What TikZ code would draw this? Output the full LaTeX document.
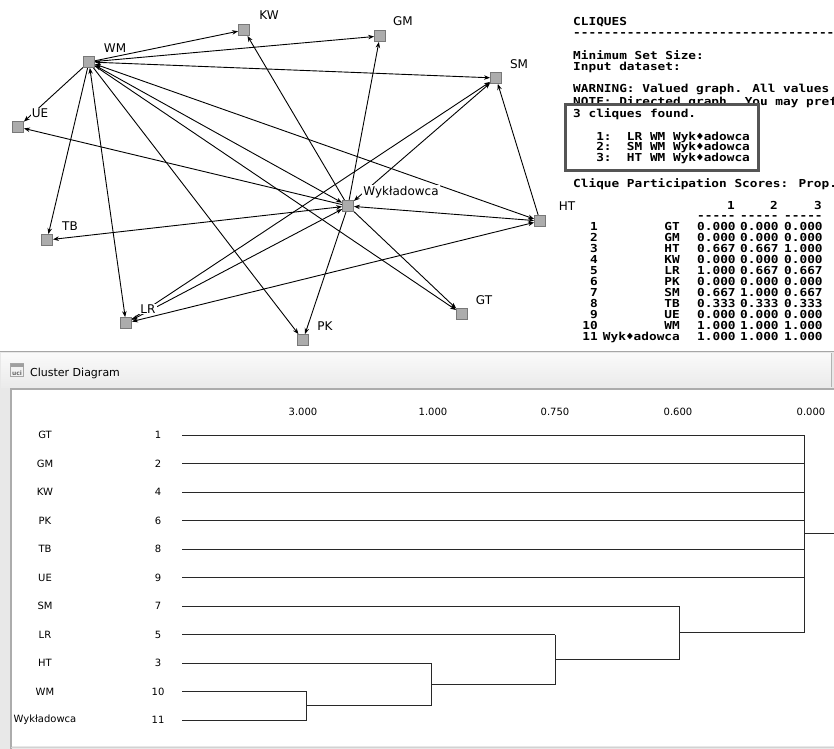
\documentclass[tikz,border=0pt]{standalone}
\usepackage{fontspec}
\setmainfont{DejaVu Sans}
\newfontfamily\monof[FakeStretch=1.16]{DejaVu Sans Mono}
\usetikzlibrary{arrows.meta}
\pgfdeclarelayer{back}
\pgfdeclarelayer{bg}
\pgfsetlayers{back,bg,main}
\definecolor{vfill}{RGB}{172,172,172}
\definecolor{vborder}{RGB}{120,120,120}
\definecolor{boxc}{RGB}{85,85,85}
\definecolor{dline}{RGB}{40,40,40}
\tikzset{
  vtx/.style={draw=vborder, fill=vfill, minimum size=11pt, inner sep=0pt, line width=0.8pt},
  lab/.style={fill=white, inner sep=1pt, font=\fontsize{12}{14}\selectfont},
  ed/.style={line width=0.9pt, -{Stealth[length=6pt,width=4.5pt]}},
  bed/.style={line width=0.9pt, {Stealth[length=6pt,width=4.5pt]}-{Stealth[length=6pt,width=4.5pt]}},
  mono/.style={font=\monof\bfseries\fontsize{11}{13}\selectfont, inner sep=0pt, anchor=base west},
  monor/.style={font=\monof\bfseries\fontsize{11}{13}\selectfont, inner sep=0pt, anchor=base east},
  dname/.style={font=\fontsize{10}{12}\selectfont, inner sep=0pt},
  dtree/.style={line width=1pt, draw=dline},
}
\begin{document}
\begin{tikzpicture}[x=1pt,y=-1pt]
\useasboundingbox (0,0) rectangle (834,748);
\begin{pgfonlayer}{back}
\fill[white] (0,0) rectangle (834,748);
\end{pgfonlayer}

% ---------------- network ----------------
\node[vtx] (WM)  at (89,62) {};
\node[vtx] (KW)  at (244,30) {};
\node[vtx] (GM)  at (380,36) {};
\node[vtx] (SM)  at (496,78) {};
\node[vtx] (UE)  at (18,127) {};
\node[vtx] (Wy)  at (348,206) {};
\node[vtx] (HT)  at (540,221) {};
\node[vtx] (TB)  at (47,240) {};
\node[vtx] (LR)  at (126,323) {};
\node[vtx] (GT)  at (462,314) {};
\node[vtx] (PK)  at (303,340) {};

\begin{pgfonlayer}{bg}
\draw[ed]  (WM) -- (KW);
\draw[ed]  (WM) -- (GM);
\draw[bed] (WM) -- (SM);
\draw[ed]  (WM) -- (UE);
\draw[ed]  (WM) -- (TB);
\draw[bed] (WM) -- (LR);
\draw[ed]  (WM) -- (PK);
\draw[ed]  (WM) -- (GT);
\draw[bed] (WM) -- (Wy);
\draw[bed] (WM) -- (HT);
\draw[ed]  (Wy) -- (KW);
\draw[ed]  (Wy) -- (GM);
\draw[bed] (Wy) -- (SM);
\draw[ed]  (Wy) -- (UE);
\draw[bed] (Wy) -- (TB);
\draw[bed] (Wy) -- (LR);
\draw[bed] (Wy) -- (HT);
\draw[ed]  (Wy) -- (GT);
\draw[ed]  (Wy) -- (PK);
\draw[ed]  (LR) -- (SM);
\draw[bed] (LR) -- (HT);
\draw[ed]  (HT) -- (SM);
\end{pgfonlayer}

\node[lab] (lWM) at (115,48) {WM};
\node[lab] (lKW) at (269,15) {KW};
\node[lab] (lGM) at (403,21) {GM};
\node[lab] (lSM) at (519,64) {SM};
\node[lab] (lUE) at (40,113) {UE};
\node[lab] (lWy) at (401,192) {Wykładowca};
\node[lab] (lHT) at (567,206) {HT};
\node[lab] (lGT) at (484,300) {GT};
\node[lab] (lPK) at (325,326) {PK};
\node[lab] (lTB) at (70,226) {TB};
\node[lab] (lLR) at (148,309) {LR};

% ---------------- text output ----------------
\node[mono] (t1) at (573,25) {CLIQUES};
\node[mono] (t2) at (573,36) {-----------------------------------};
\node[mono] (t3) at (573,59) {Minimum Set Size:};
\node[mono] (t4) at (573,70) {Input dataset:};
\node[mono] (t5) at (573,92) {WARNING: Valued graph. All values};
\node[mono] (t6) at (573,105) {NOTE: Directed graph. You may pref};
\draw[draw=boxc, fill=white, line width=3pt] (565,104) rectangle (758,170);
\node[mono] (t7) at (573,117) {3 cliques found.};
\node[mono] (c1) at (573,140) {\ \ \ 1:\ \ LR WM Wyk♦adowca};
\node[mono] (c2) at (573,150.5) {\ \ \ 2:\ \ SM WM Wyk♦adowca};
\node[mono] (c3) at (573,161) {\ \ \ 3:\ \ HT WM Wyk♦adowca};
\node[mono] (t8) at (573,187) {Clique Participation Scores: Prop.};

\node[monor] (h1) at (735,209) {1};
\node[monor] (h2) at (778,209) {2};
\node[monor] (h3) at (822,209) {3};
\node[mono] (d1) at (697,219.5) {-----};
\node[mono] (d2) at (740,219.5) {-----};
\node[mono] (d3) at (784,219.5) {-----};

\foreach \n/\lbl/\a/\b/\c [count=\i from 0] in {
  1/GT/0.000/0.000/0.000,
  2/GM/0.000/0.000/0.000,
  3/HT/0.667/0.667/1.000,
  4/KW/0.000/0.000/0.000,
  5/LR/1.000/0.667/0.667,
  6/PK/0.000/0.000/0.000,
  7/SM/0.667/1.000/0.667,
  8/TB/0.333/0.333/0.333,
  9/UE/0.000/0.000/0.000,
  10/WM/1.000/1.000/1.000,
  11/Wyk♦adowca/1.000/1.000/1.000} {
  \node[monor] (rn\i) at (598,230+11*\i) {\n};
  \node[monor] (rl\i) at (680,230+11*\i) {\lbl};
  \node[mono]  (ra\i) at (697,230+11*\i) {\a};
  \node[mono]  (rb\i) at (740,230+11*\i) {\b};
  \node[mono]  (rc\i) at (784,230+11*\i) {\c};
}

% ---------------- cluster diagram window ----------------
\fill[gray!18] (0,351) rectangle (840,760);
\draw[gray!70, line width=1pt] (0,351.5) -- (840,351.5);
\shade[top color=gray!4, bottom color=gray!16] (1,353) rectangle (831,387);
\draw[gray!60, line width=1pt] (831,353) -- (831,387);
\fill[white] (11,389) rectangle (840,746);
\draw[gray!65, line width=1.5pt] (11,760) -- (11,389) -- (840,389);
\draw[gray!35, line width=1pt] (11,747) -- (840,747);

\node[draw=gray!70, fill=gray!10, minimum width=13pt, minimum height=13pt, inner sep=0pt] (ic) at (17,370) {};
\fill[gray!75] (10.5,363.5) rectangle (23.5,367);
\node[font=\bfseries\fontsize{6}{6}\selectfont, inner sep=0pt, text=gray!80!black] (ict) at (17,373) {uci};
\node[anchor=west, inner sep=0pt, font=\fontsize{11}{13}\selectfont] (title) at (30,373) {Cluster Diagram};

\foreach \v/\x in {3.000/303, 1.000/433, 0.750/555, 0.600/678, 0.000/811} {
  \node[dname] at (\x,412) {\v};
}

\foreach \nm/\num [count=\i from 0] in {GT/1, GM/2, KW/4, PK/6, TB/8, UE/9, SM/7, LR/5, HT/3, WM/10, Wykładowca/11} {
  \node[dname] (dn\i) at (45,435+28.5*\i) {\nm};
  \node[dname] (dk\i) at (158,435+28.5*\i) {\num};
  \coordinate (ds\i) at (182,435+28.5*\i);
}

\foreach \i in {0,...,5} {
  \draw[dtree] (ds\i) -- (804,435+28.5*\i);
}
\draw[dtree] (ds6) -- (679,606);
\draw[dtree] (ds7) -- (555,634.5);
\draw[dtree] (ds8) -- (431,663);
\draw[dtree] (ds9) -- (306,691.5) -- (306,720) -- (ds10);
\coordinate (j1) at (306,705.75);
\coordinate (j2) at (431,684.4);
\coordinate (j3) at (555,659.5);
\coordinate (j4) at (679,632.7);
\coordinate (root) at (804,533.8);
\draw[dtree] (j1) -- (431,705.75) -- (431,663);
\draw[dtree] (j2) -- (555,684.4) -- (555,634.5);
\draw[dtree] (j3) -- (679,659.5) -- (679,606);
\draw[dtree] (j4) -- (804,632.7) -- (804,435);
\draw[dtree] (root) -- (840,533.8);
\end{tikzpicture}
\end{document}
